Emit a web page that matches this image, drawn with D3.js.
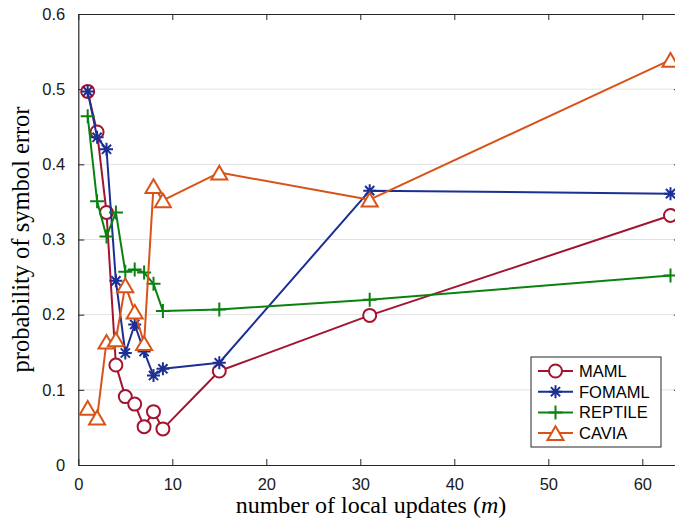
<!DOCTYPE html>
<html>
<head>
<meta charset="utf-8">
<script src="https://cdn.jsdelivr.net/npm/d3@7"></script>
<style>
  html, body { margin: 0; padding: 0; background: #fff; }
  svg { display: block; }
</style>
</head>
<body>
<div id="chart"></div>
<script>
/* Symbol error vs number of local updates — four meta-learning methods. */

var xValues = [1, 2, 3, 4, 5, 6, 7, 8, 9, 15, 31, 63];
var mamlValues    = [0.497, 0.443, 0.336, 0.133, 0.091, 0.081, 0.051, 0.071, 0.048, 0.125, 0.199, 0.332];
var fomamlValues  = [0.497, 0.436, 0.420, 0.245, 0.149, 0.187, 0.151, 0.119, 0.128, 0.136, 0.365, 0.361];
var reptileValues = [0.464, 0.351, 0.304, 0.336, 0.257, 0.260, 0.256, 0.241, 0.205, 0.207, 0.220, 0.252];
var caviaValues   = [0.076, 0.063, 0.164, 0.167, 0.239, 0.204, 0.162, 0.371, 0.352, 0.389, 0.353, 0.539];
var seriesNames = ["MAML", "FOMAML", "REPTILE", "CAVIA"];
var xTicks = [0, 10, 20, 30, 40, 50, 60];
var yTicks = [0, 0.1, 0.2, 0.3, 0.4, 0.5, 0.6];

var W = 675, H = 518;
var plotLeft = 78.3, plotTop = 14, plotBottom = 465;
var x = d3.scaleLinear().domain([0, 64]).range([plotLeft, plotLeft + 64 * 9.4]);
var y = d3.scaleLinear().domain([0, 0.6]).range([plotBottom, plotTop]);
var plotRight = x(64);

var axisColor = "#262626";
var sans = "'Liberation Sans', Arial, sans-serif";
var serif = "'Liberation Serif', 'DejaVu Serif', serif";

var series = [
  { name: seriesNames[0], values: mamlValues,    color: "#A2142F", marker: "circle" },
  { name: seriesNames[1], values: fomamlValues,  color: "#1B2F94", marker: "star" },
  { name: seriesNames[2], values: reptileValues, color: "#0A8210", marker: "plus" },
  { name: seriesNames[3], values: caviaValues,   color: "#D95319", marker: "triangle" }
];

var svg = d3.select("#chart").append("svg")
  .attr("width", W).attr("height", H);

/* Horizontal grid only. */
svg.append("g").selectAll("line").data(yTicks.slice(1, -1)).join("line")
  .attr("x1", plotLeft).attr("x2", plotRight)
  .attr("y1", function (d) { return y(d); }).attr("y2", function (d) { return y(d); })
  .attr("stroke", "#e3e3e3").attr("stroke-width", 1);

/* Axes: bottom/left with labels, top/right ticks only — all ticks inward. */
var tickLen = 6;
svg.append("g").attr("transform", "translate(0," + plotBottom + ")")
  .call(d3.axisBottom(x).tickValues(xTicks).tickSizeInner(-tickLen).tickSizeOuter(0).tickPadding(13))
  .call(styleAxis);
svg.append("g").attr("transform", "translate(0," + plotTop + ")")
  .call(d3.axisTop(x).tickValues(xTicks).tickSizeInner(-tickLen).tickSizeOuter(0).tickFormat(""))
  .call(styleAxis);
svg.append("g").attr("transform", "translate(" + plotLeft + ",0)")
  .call(d3.axisLeft(y).tickValues(yTicks).tickSizeInner(-tickLen).tickSizeOuter(0).tickPadding(13)
    .tickFormat(function (d) { return d === 0 ? "0" : d3.format(".1f")(d); }))
  .call(styleAxis);
svg.append("g").attr("transform", "translate(" + plotRight + ",0)")
  .call(d3.axisRight(y).tickValues(yTicks).tickSizeInner(-tickLen).tickSizeOuter(0).tickFormat(""))
  .call(styleAxis);

function styleAxis(g) {
  g.select(".domain").attr("stroke", axisColor).attr("stroke-width", 1.2);
  g.selectAll(".tick line").attr("stroke", axisColor).attr("stroke-width", 1);
  g.selectAll(".tick text").attr("fill", "#1a1a1a")
    .attr("font-family", sans).attr("font-size", 16.5);
}

/* Markers. */
function drawMarker(g, type, color, cx, cy) {
  if (type === "circle") {
    g.append("circle").attr("cx", cx).attr("cy", cy).attr("r", 6.5)
      .attr("fill", "#fff").attr("stroke", color).attr("stroke-width", 2);
  } else if (type === "triangle") {
    var hw = 8, hh = 6.8;
    g.append("path")
      .attr("d", "M" + cx + "," + (cy - hh) + "L" + (cx + hw) + "," + (cy + hh) + "L" + (cx - hw) + "," + (cy + hh) + "Z")
      .attr("fill", "#fff").attr("stroke", color).attr("stroke-width", 2).attr("stroke-linejoin", "miter");
  } else if (type === "plus") {
    var p = 7;
    g.append("path")
      .attr("d", "M" + (cx - p) + "," + cy + "H" + (cx + p) + "M" + cx + "," + (cy - p) + "V" + (cy + p))
      .attr("stroke", color).attr("stroke-width", 2);
  } else if (type === "star") {
    var s = 6.5, d = s * 0.707;
    g.append("path")
      .attr("d", "M" + (cx - s) + "," + cy + "H" + (cx + s) +
                 "M" + cx + "," + (cy - s) + "V" + (cy + s) +
                 "M" + (cx - d) + "," + (cy - d) + "L" + (cx + d) + "," + (cy + d) +
                 "M" + (cx - d) + "," + (cy + d) + "L" + (cx + d) + "," + (cy - d))
      .attr("stroke", color).attr("stroke-width", 2);
  }
}

var line = d3.line()
  .x(function (d) { return x(d[0]); })
  .y(function (d) { return y(d[1]); });

series.forEach(function (s) {
  var pts = xValues.map(function (xv, i) { return [xv, s.values[i]]; });
  var g = svg.append("g");
  g.append("path").datum(pts)
    .attr("d", line)
    .attr("fill", "none").attr("stroke", s.color).attr("stroke-width", 2)
    .attr("stroke-linejoin", "round");
  pts.forEach(function (p) { drawMarker(g, s.marker, s.color, x(p[0]), y(p[1])); });
});

/* Legend. */
var lg = svg.append("g");
lg.append("rect").attr("x", 531).attr("y", 357).attr("width", 130).attr("height", 90)
  .attr("fill", "#fff").attr("stroke", axisColor).attr("stroke-width", 1);
series.forEach(function (s, i) {
  var cy = 371 + i * 20.7;
  lg.append("line").attr("x1", 538).attr("x2", 573).attr("y1", cy).attr("y2", cy)
    .attr("stroke", s.color).attr("stroke-width", 2);
  drawMarker(lg, s.marker, s.color, 555.5, cy);
  lg.append("text").attr("x", 579).attr("y", cy + 6)
    .attr("font-family", sans).attr("font-size", 16.5).attr("fill", "#000")
    .text(s.name);
});

/* Axis titles. */
var xt = svg.append("text")
  .attr("x", 371).attr("y", 513)
  .attr("text-anchor", "middle")
  .attr("font-family", serif).attr("font-size", 24).attr("fill", "#000");
xt.append("tspan").text("number of local updates (");
xt.append("tspan").attr("font-style", "italic").text("m");
xt.append("tspan").text(")");

svg.append("text")
  .attr("transform", "translate(29," + (plotTop + plotBottom) / 2 + ") rotate(-90)")
  .attr("text-anchor", "middle")
  .attr("font-family", serif).attr("font-size", 24.5).attr("fill", "#000")
  .text("probability of symbol error");
</script>
</body>
</html>
